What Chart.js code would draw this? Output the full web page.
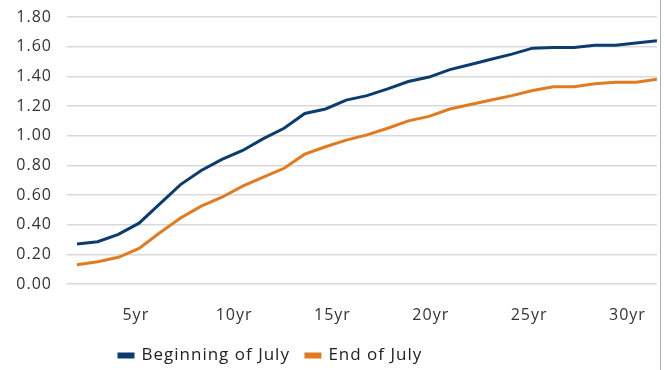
<!DOCTYPE html>
<html>
<head>
<meta charset="utf-8">
<script src="https://cdn.jsdelivr.net/npm/chart.js@4.4.0/dist/chart.umd.min.js"></script>
<style>
    html, body { margin: 0; padding: 0; background: #fff; }
    #wrap { width: 660px; height: 370px; border-right: 1px solid #a9aeb3; }
</style>
</head>
<body>
<div id="wrap"><canvas id="myChart"></canvas></div>
<script>
// maturities in years, 2yr .. 30yr
const maturities = [2, 3, 4, 5, 6, 7, 8, 9, 10, 11, 12, 13, 14, 15, 16,
    17, 18, 19, 20, 21, 22, 23, 24, 25, 26, 27, 28, 29, 30];
const beginningOfJuly = [0.27, 0.285, 0.335, 0.41, 0.54, 0.67, 0.765, 0.84, 0.90, 0.98,
    1.05, 1.15, 1.18, 1.24, 1.27, 1.315, 1.365, 1.395, 1.445, 1.48,
    1.515, 1.55, 1.59, 1.595, 1.595, 1.61, 1.61, 1.625, 1.64];
const endOfJuly = [0.13, 0.15, 0.18, 0.24, 0.345, 0.445, 0.525, 0.585, 0.66, 0.72,
    0.78, 0.875, 0.925, 0.97, 1.005, 1.05, 1.10, 1.13, 1.18, 1.21,
    1.24, 1.27, 1.305, 1.33, 1.33, 1.35, 1.36, 1.36, 1.38];
const tickYears = [5, 10, 15, 20, 25, 30];
const seriesNames = ['Beginning of July', 'End of July'];

const font = 'Open Sans';
const toPoints = vals => vals.map((v, i) => ({ x: maturities[i], y: v }));

// the original font runs wider, so space the letters a bit
const spacing = {
    id: 'spacing',
    beforeUpdate(chart) { chart.ctx.letterSpacing = '1px'; },
    beforeLayout(chart) { chart.ctx.letterSpacing = '1px'; },
    beforeDraw(chart) { chart.ctx.letterSpacing = '1px'; },
};

// moves the legend to where it sits in the original
const legendShift = {
    id: 'legendShift',
    afterLayout(chart) {
        const l = chart.legend;
        l.left = 103;
        l.right = chart.width;
        l.top = 331;
        l.bottom = chart.height;
    }
};

const canvas = document.getElementById('myChart');
new Chart(canvas, {
    type: 'line',
    data: {
        datasets: [{
            label: seriesNames[0],
            data: toPoints(beginningOfJuly),
            borderColor: '#0b3c6d',
            backgroundColor: '#0b3c6d',
            borderWidth: 3,
            pointRadius: 0,
            fill: false,
            xAxisID: 'x',
        }, {
            label: seriesNames[1],
            data: toPoints(endOfJuly),
            borderColor: '#e27b1f',
            backgroundColor: '#e27b1f',
            borderWidth: 3,
            pointRadius: 0,
            fill: false,
            xAxisID: 'x',
        }],
    },
    options: {
        responsive: true,
        maintainAspectRatio: false,
        animation: false,
        layout: { padding: { top: 17, right: 0, left: 0, bottom: 0 } },
        plugins: {
            tooltip: { enabled: false },
            legend: {
                position: 'bottom',
                align: 'start',
                labels: {
                    boxWidth: 14,
                    boxHeight: 3,
                    padding: 16,
                    color: '#222',
                    font: { family: font, size: 17 },
                },
            },
        },
        scales: {
            x: {
                type: 'linear',
                min: 1.52,
                max: 30,
                display: false,
            },
            xl: {
                type: 'linear',
                position: 'bottom',
                min: 1.5,
                max: 31.5,
                grid: { display: false },
                border: { display: false },
                afterBuildTicks: axis => { axis.ticks = tickYears.map(v => ({ value: v })); },
                afterFit: axis => { axis.height = 43; },
                ticks: {
                    padding: 14,
                    maxRotation: 0,
                    color: '#333',
                    font: { family: font, size: 16 },
                    callback: v => v + 'yr',
                },
            },
            y: {
                min: 0,
                max: 1.8,
                grid: { color: '#d9d9d9', lineWidth: 1.5, drawTicks: false },
                border: { display: false },
                afterFit: axis => {
                    axis.width = 67;
                    axis.paddingTop = 0;
                    axis.paddingBottom = 0;
                },
                ticks: {
                    stepSize: 0.2,
                    padding: 15,
                    color: '#333',
                    font: { family: font, size: 16 },
                    callback: v => v.toFixed(2),
                },
            },
        },
    },
    plugins: [spacing, legendShift],
});
</script>
</body>
</html>
